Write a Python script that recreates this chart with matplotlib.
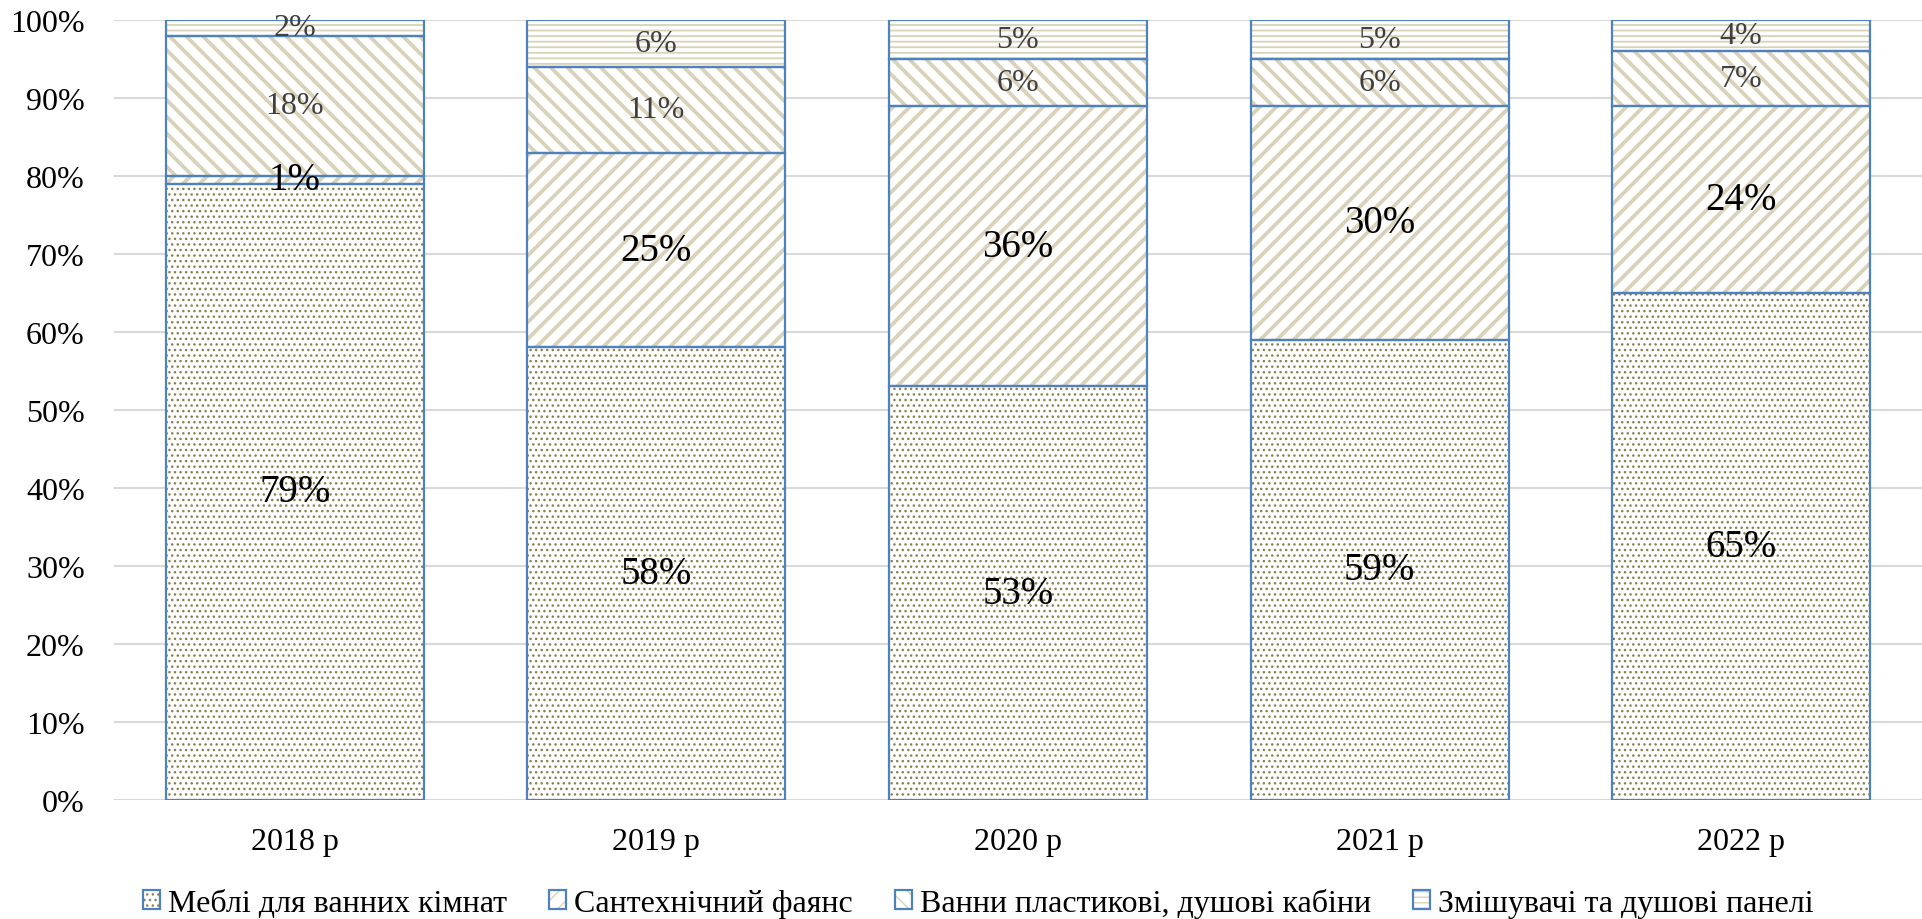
import numpy as np
import matplotlib
matplotlib.use("Agg")
import matplotlib.pyplot as plt
from matplotlib.patches import Patch

plt.rcParams['font.family'] = ['Liberation Serif', 'DejaVu Serif']

years = ['2018 р', '2019 р', '2020 р', '2021 р', '2022 р']
series_names = ['Меблі для ванних кімнат', 'Сантехнічний фаянс',
                'Ванни пластикові, душові кабіни', 'Змішувачі та душові панелі']
furniture = [79, 58, 53, 59, 65]
faience = [1, 25, 36, 30, 24]
baths = [18, 11, 6, 6, 7]
mixers = [2, 6, 5, 5, 4]

data = [furniture, faience, baths, mixers]
hatches = ['...', '//', '\\\\', '---']
hatch_colors = ['#8C8050', '#D8D2B8', '#D8D2B8', '#D8D2B8']
hatch_lw = [1.0, 2.7, 2.7, 1.3]
label_size = [28, 28, 23, 23]
label_color = ['black', 'black', '#404040', '#404040']
blue = '#4F81BD'

fig = plt.figure(figsize=(19.22, 9.2), dpi=100)
ax = fig.add_axes([114 / 1922, 1 - 800.7 / 920, 1 - 114 / 1922, (800.7 - 21) / 920])

x = np.arange(len(years))
width = 0.713
bottom = np.zeros(len(years))
handles = []
for i, vals in enumerate(data):
    vals = np.array(vals, dtype=float)
    hb = ax.bar(x, vals, width, bottom=bottom, color='white',
                edgecolor=hatch_colors[i], hatch=hatches[i], linewidth=0, zorder=2)
    for p in hb:
        p.set_hatch_linewidth(hatch_lw[i])
    ob = ax.bar(x, vals, width, bottom=bottom, fill=False,
                edgecolor=blue, linewidth=1.6, zorder=3)
    hp = Patch(facecolor='white', edgecolor=hatch_colors[i], hatch=hatches[i], linewidth=0)
    hp.set_hatch_linewidth(hatch_lw[i])
    op = Patch(fill=False, edgecolor=blue, linewidth=1.6)
    handles.append((hp, op))
    ax.bar_label(ob, labels=['%d%%' % v for v in vals], label_type='center',
                 fontsize=label_size[i], color=label_color[i], zorder=4)
    bottom += vals

ax.set_xlim(-0.5, len(years) - 0.5)
ax.set_ylim(0, 100)
ax.set_yticks(np.arange(0, 101, 10))
ax.set_yticklabels(['%d%%' % v for v in range(0, 101, 10)])
ax.set_xticks(x)
ax.set_xticklabels(years)
ax.tick_params(axis='y', length=0, pad=21, labelsize=23)
ax.tick_params(axis='x', length=0, pad=20, labelsize=23)
ax.grid(axis='y', color='#D9D9D9', linewidth=1.5, zorder=0)
ax.set_axisbelow(True)
for s in ax.spines.values():
    s.set_visible(False)

fig.legend(handles, series_names, loc='center', bbox_to_anchor=(0.509, 1 - 904 / 920),
           ncol=4, frameon=False, fontsize=23, handlelength=0.55, handleheight=0.55,
           handletextpad=0.25, columnspacing=1.3, borderpad=0)

fig.savefig('out.png', dpi=100)
